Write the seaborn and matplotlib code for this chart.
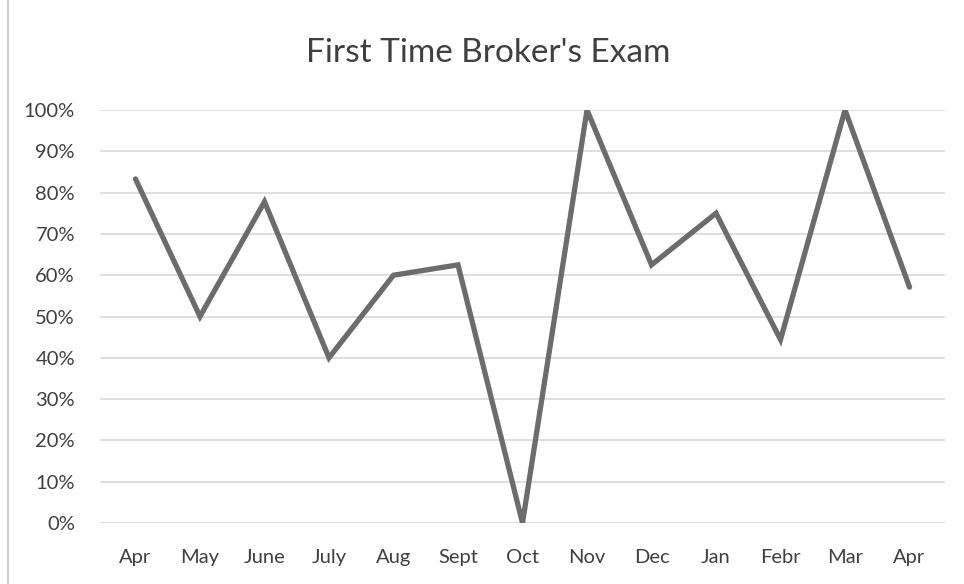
import matplotlib
matplotlib.use("Agg")
import matplotlib.pyplot as plt
import seaborn as sns
import pandas as pd
from matplotlib.ticker import PercentFormatter

months = ["Apr", "May", "June", "July", "Aug", "Sept", "Oct",
          "Nov", "Dec", "Jan", "Febr", "Mar", "Apr"]
pass_rate = [83.3, 50.0, 77.8, 40.0, 60.0, 62.5, 0.0,
             100.0, 62.5, 75.0, 44.4, 100.0, 57.1]
y_ticks = [0, 10, 20, 30, 40, 50, 60, 70, 80, 90, 100]

sns.set_theme(style="white")
plt.rcParams["font.family"] = ["Lato", "DejaVu Sans"]

df = pd.DataFrame({"pos": range(len(months)), "rate": pass_rate})

fig = plt.figure(figsize=(9.64, 5.84), dpi=100)
ax = fig.add_axes([100 / 964, 1 - 523 / 584, 845 / 964, 413 / 584])

for t in y_ticks:
    ax.axhline(t, color="#d9d9d9", lw=1.2, zorder=0)

sns.lineplot(data=df, x="pos", y="rate", ax=ax, color="#6c6c6c",
             linewidth=3.8, solid_joinstyle="miter", zorder=3)

ax.set_xlim(-0.55, len(months) - 0.45)
ax.set_ylim(0, 100)
ax.set_yticks(y_ticks)
ax.yaxis.set_major_formatter(PercentFormatter(decimals=0))
ax.set_xticks(range(len(months)))
ax.set_xticklabels(months)
ax.tick_params(axis="both", length=0, labelsize=14.5, colors="#404040")
ax.tick_params(axis="x", pad=19)
ax.tick_params(axis="y", pad=18)
ax.set_xlabel("")
ax.set_ylabel("")
for s in ax.spines.values():
    s.set_visible(False)
ax.grid(False)

fig.text(488 / 964, 1 - 53 / 584, "First Time Broker's Exam",
         ha="center", va="center", fontsize=24, color="#404040")

# thin chart-area border on the left
fig.add_artist(plt.Line2D([8 / 964, 8 / 964], [0, 1], color="#d0d0d0", lw=1.5))

fig.savefig("out.png", dpi=100)
